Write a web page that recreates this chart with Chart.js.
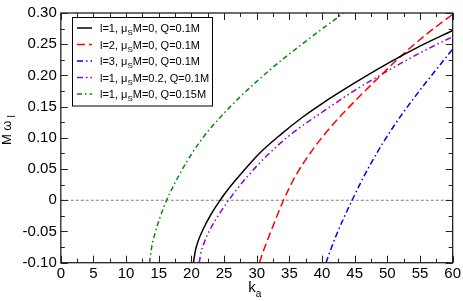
<!DOCTYPE html>
<html>
<head>
<meta charset="utf-8">
<script src="https://cdn.jsdelivr.net/npm/chart.js@4.4.0/dist/chart.umd.min.js"></script>
<style>
  body { margin: 0; background: #fff; }
  #wrap { width: 463px; height: 301px; }
</style>
</head>
<body>
<div id="wrap"><canvas id="chart" width="463" height="301"></canvas></div>
<script>
// l=1, muS M=0, Q=0.1M
const kL1 = [20.3, 20.6, 21.0, 22.0, 23.0, 24.4, 25.5, 27.4, 30.4, 33.75, 37.0, 40.0, 45.0, 50.0, 55.0, 60.0];
const wL1 = [-0.100, -0.081, -0.066, -0.042, -0.0225, 0.000, 0.016, 0.040, 0.075, 0.106, 0.133, 0.155, 0.188, 0.219, 0.247, 0.272];
// l=2, muS M=0, Q=0.1M
const kL2 = [30.4, 31.2, 32.2, 34.1, 36.0, 38.5, 40.5, 42.4, 44.2, 48.7, 52.3, 56.0, 60.0];
const wL2 = [-0.100, -0.076, -0.049, 0.000, 0.040, 0.080, 0.107, 0.130, 0.150, 0.197, 0.233, 0.266, 0.298];
// l=3, muS M=0, Q=0.1M
const kL3 = [40.6, 41.3, 42.1, 43.3, 44.6, 46.2, 48.7, 51.0, 53.8, 57.0, 60.0];
const wL3 = [-0.100, -0.080, -0.058, -0.029, 0.000, 0.034, 0.081, 0.119, 0.160, 0.203, 0.242];
// l=1, muS M=0.2, Q=0.1M
const kMu = [21.2, 21.5, 22.0, 23.0, 24.2, 25.7, 27.0, 28.4, 31.5, 35.4, 40.0, 45.0, 50.0, 55.0, 60.0];
const wMu = [-0.100, -0.082, -0.0665, -0.044, -0.023, 0.000, 0.018, 0.036, 0.071, 0.107, 0.141, 0.176, 0.207, 0.236, 0.262];
// l=1, muS M=0, Q=0.15M
const kQ = [13.6, 13.9, 14.4, 15.2, 16.2, 17.2, 18.2, 20.2, 21.6, 23.05, 27.1, 32.2, 37.3, 43.3];
const wQ = [-0.100, -0.076, -0.054, -0.027, 0.000, 0.022, 0.042, 0.077, 0.098, 0.117, 0.162, 0.2105, 0.253, 0.300];
// zero reference line
const kZero = [0, 60];
const wZero = [0, 0];

const xTicks = [0, 5, 10, 15, 20, 25, 30, 35, 40, 45, 50, 55, 60];
const yTicks = [-0.10, -0.05, 0, 0.05, 0.10, 0.15, 0.20, 0.25, 0.30];
const yLabels = ['-0.10', '-0.05', '0', '0.05', '0.10', '0.15', '0.20', '0.25', '0.30'];

const legendLabels = [
  [['l=1, \u03bc', 0], ['S', 1], ['M=0, Q=0.1M', 0]],
  [['l=2, \u03bc', 0], ['S', 1], ['M=0, Q=0.1M', 0]],
  [['l=3, \u03bc', 0], ['S', 1], ['M=0, Q=0.1M', 0]],
  [['l=1, \u03bc', 0], ['S', 1], ['M=0.2, Q=0.1M', 0]],
  [['l=1, \u03bc', 0], ['S', 1], ['M=0, Q=0.15M', 0]],
];

const FONT = '"Liberation Sans", Arial, Helvetica, sans-serif';

function pts(ks, ws) {
  return ks.map((k, i) => ({x: k, y: ws[i]}));
}

function curve(ks, ws, color, dash) {
  return {
    data: pts(ks, ws),
    borderColor: color,
    borderWidth: 1.5,
    borderDash: dash,
    pointRadius: 0,
    showLine: true,
    fill: false,
    cubicInterpolationMode: 'monotone',
  };
}

const series = [
  curve(kL1, wL1, '#000000', []),
  curve(kL2, wL2, '#ff0000', [8, 4]),
  curve(kL3, wL3, '#0000ff', [6, 3, 1.5, 3]),
  curve(kMu, wMu, '#9400d3', [6, 3, 1.5, 3, 1.5, 3]),
  curve(kQ, wQ, '#008b00', [5, 3, 1.5, 3]),
];

const zeroLine = {
  data: pts(kZero, wZero),
  borderColor: '#808080',
  borderWidth: 1,
  borderDash: [3, 2],
  pointRadius: 0,
  showLine: true,
  order: 10,
};

function drawRich(ctx, parts, x, y, size, subSize, drop) {
  for (const [t, sub] of parts) {
    ctx.font = (sub ? subSize : size) + 'px ' + FONT;
    ctx.fillText(t, x, y + (sub ? drop : 0));
    x += ctx.measureText(t).width;
  }
  return x;
}

function richWidth(ctx, parts, size, subSize) {
  let w = 0;
  for (const [t, sub] of parts) {
    ctx.font = (sub ? subSize : size) + 'px ' + FONT;
    w += ctx.measureText(t).width;
  }
  return w;
}

const frame = {
  id: 'frame',
  afterDraw(chart) {
    const {ctx, chartArea: a, scales: {x, y}} = chart;
    ctx.save();

    // inward ticks on all four sides
    ctx.strokeStyle = '#222';
    ctx.lineWidth = 1;
    ctx.beginPath();
    for (let i = 0; i < xTicks.length; i++) {
      const steps = i < xTicks.length - 1 ? [xTicks[i], (xTicks[i] + xTicks[i + 1]) / 2] : [xTicks[i]];
      steps.forEach((v, j) => {
        const len = j === 0 ? 7 : 4;
        const px = Math.round(x.getPixelForValue(v)) + 0.5;
        ctx.moveTo(px, a.bottom); ctx.lineTo(px, a.bottom - len);
        ctx.moveTo(px, a.top); ctx.lineTo(px, a.top + len);
      });
    }
    for (let i = 0; i < yTicks.length; i++) {
      const steps = i < yTicks.length - 1 ? [yTicks[i], (yTicks[i] + yTicks[i + 1]) / 2] : [yTicks[i]];
      steps.forEach((v, j) => {
        const len = j === 0 ? 7 : 4;
        const py = Math.round(y.getPixelForValue(v)) + 0.5;
        ctx.moveTo(a.left, py); ctx.lineTo(a.left + len, py);
        ctx.moveTo(a.right, py); ctx.lineTo(a.right - len, py);
      });
    }
    ctx.stroke();

    ctx.lineWidth = 1.3;
    ctx.strokeRect(a.left, a.top, a.right - a.left, a.bottom - a.top);

    // legend
    const bx = 72.5, by = 17.5, bw = 140, bh = 88.5;
    ctx.fillStyle = '#fff';
    ctx.fillRect(bx, by, bw, bh);
    ctx.strokeStyle = '#000';
    ctx.lineWidth = 1;
    ctx.strokeRect(bx, by, bw, bh);
    series.forEach((s, i) => {
      const ry = 28 + i * 16.5;
      ctx.beginPath();
      ctx.setLineDash(s.borderDash);
      ctx.strokeStyle = s.borderColor;
      ctx.lineWidth = 1.5;
      ctx.moveTo(77, ry); ctx.lineTo(92, ry);
      ctx.stroke();
      ctx.setLineDash([]);
      ctx.fillStyle = '#000';
      ctx.textBaseline = 'alphabetic';
      ctx.textAlign = 'left';
      drawRich(ctx, legendLabels[i], 100, ry + 4, 11, 8, 3);
    });

    // axis titles
    ctx.fillStyle = '#000';
    const xt = [['k', 0], ['a', 1]];
    const xw = richWidth(ctx, xt, 15, 10);
    drawRich(ctx, xt, (a.left + a.right) / 2 - xw / 2 - 2, 292, 15, 10, 5);

    const yt = [['M \u03c9', 0], [' I', 1]];
    const yw = richWidth(ctx, yt, 13, 10);
    ctx.translate(10.5, 130);
    ctx.rotate(-Math.PI / 2);
    drawRich(ctx, yt, -yw / 2, 0, 13, 10, 4);
    ctx.restore();
  }
};

const ctx = document.getElementById('chart').getContext('2d');
const chart = new Chart(ctx, {
  type: 'scatter',
  data: {datasets: [...series, zeroLine]},
  options: {
    responsive: false,
    animation: false,
    layout: {padding: {top: 6, right: 9.3, left: 0, bottom: 0}},
    plugins: {legend: {display: false}, tooltip: {enabled: false}},
    scales: {
      x: {
        type: 'linear', min: 0, max: 60,
        grid: {display: false, drawTicks: false},
        border: {display: false},
        afterBuildTicks: s => { s.ticks = xTicks.map(v => ({value: v})); },
        afterFit: s => { s.height = 38.3; },
        ticks: {color: '#000', padding: 2, font: {family: FONT, size: 15}, maxRotation: 0, autoSkip: false},
      },
      y: {
        type: 'linear', min: -0.1, max: 0.3,
        grid: {display: false, drawTicks: false},
        border: {display: false},
        afterBuildTicks: s => { s.ticks = yTicks.map(v => ({value: v})); },
        afterFit: s => { s.width = 60.8; },
        ticks: {color: '#000', padding: 4, font: {family: FONT, size: 15}, autoSkip: false,
          callback: (v, i) => yLabels[i]},
      },
    },
  },
  plugins: [frame],
});
</script>
</body>
</html>
